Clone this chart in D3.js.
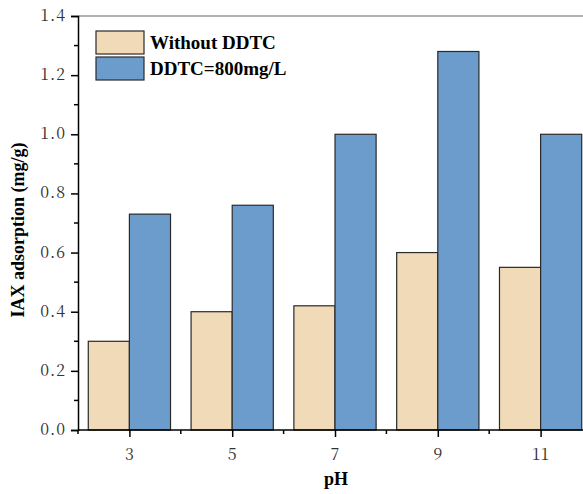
<!DOCTYPE html>
<html><head><meta charset="utf-8">
<script src="https://cdn.jsdelivr.net/npm/d3@7"></script>
<style>
body{margin:0;background:#fff}
#wrap{position:relative;width:583px;height:494px;overflow:hidden}
#wrap svg{position:absolute;left:0;top:0}
.lbl{position:absolute;white-space:pre;line-height:1;color:#333}
.tick-lbl{font-family:'Noto Serif CJK SC','Times New Roman',serif;font-size:16px}
.ttl{font-family:'Times New Roman','Liberation Serif',serif;font-weight:bold;color:#000}
</style>
</head><body>
<div id="wrap"><svg id="c" width="583" height="494"></svg></div>
<script>
const categories = [3, 5, 7, 9, 11];
const withoutDDTC = [0.30, 0.40, 0.42, 0.60, 0.55];
const withDDTC = [0.73, 0.76, 1.00, 1.28, 1.00];
const seriesNames = ["Without DDTC", "DDTC=800mg/L"];
const yTicks = [0, 0.2, 0.4, 0.6, 0.8, 1.0, 1.2, 1.4];
const colors = ["#F0DAB8", "#6C9CCC"];

const wrap = d3.select("#wrap");
const svg = d3.select("#c");
const L = 78, T = 16, B = 430;
const x = d3.scaleLinear().domain([2, 12]).range([L, L + 514]);
const y = d3.scaleLinear().domain([0, 1.4]).range([B, T]);
const bw = 0.8;

const data = [];
categories.forEach((c, i) => {
  data.push({x0: c - bw, x1: c, v: withoutDDTC[i], s: 0});
  data.push({x0: c, x1: c + bw, v: withDDTC[i], s: 1});
});
svg.append("g").selectAll("rect").data(data).enter().append("rect")
  .attr("x", d => x(d.x0)).attr("width", d => x(d.x1) - x(d.x0))
  .attr("y", d => y(d.v)).attr("height", d => y(0) - y(d.v))
  .attr("fill", d => colors[d.s]).attr("stroke", "#2a2a2a").attr("stroke-width", 1.2);

svg.append("line").attr("x1", L).attr("x2", 583).attr("y1", T).attr("y2", T)
  .attr("stroke", "#666").attr("stroke-width", 1.2);

// y axis (lines via d3 axis, labels as HTML text)
const ya = svg.append("g").attr("transform", `translate(${L},0)`)
  .call(d3.axisLeft(y).tickValues(yTicks).tickSize(7).tickFormat(""));
ya.select(".domain").attr("stroke", "#000").attr("stroke-width", 1.5);
ya.selectAll(".tick line").attr("stroke-width", 1.5);
ya.selectAll("text").remove();
svg.append("g").selectAll("line").data(d3.range(0.1, 1.4, 0.2)).enter().append("line")
  .attr("x1", L - 4).attr("x2", L).attr("y1", d => y(d)).attr("y2", d => y(d))
  .attr("stroke", "#000").attr("stroke-width", 1.5);
wrap.selectAll("div.ylab").data(yTicks).enter().append("div")
  .attr("class", "lbl tick-lbl ylab")
  .style("right", (583 - L + 12) + "px")
  .style("top", d => (y(d) - 9) + "px")
  .style("letter-spacing", "1px")
  .text(d => d3.format(".1f")(d));

// x axis
const xa = svg.append("g").attr("transform", `translate(0,${B})`)
  .call(d3.axisBottom(x).tickValues(categories).tickSize(7).tickFormat(""));
xa.select(".domain").remove();
xa.selectAll("text").remove();
xa.append("line").attr("x1", L).attr("x2", 583).attr("stroke", "#000").attr("stroke-width", 1.5);
xa.selectAll(".tick line").attr("stroke-width", 1.5);
svg.append("g").selectAll("line").data([2, 4, 6, 8, 10]).enter().append("line")
  .attr("x1", d => x(d)).attr("x2", d => x(d)).attr("y1", B).attr("y2", B + 4)
  .attr("stroke", "#000").attr("stroke-width", 1.5);
wrap.selectAll("div.xlab").data(categories).enter().append("div")
  .attr("class", "lbl tick-lbl xlab")
  .style("left", d => (x(d) - 30) + "px").style("width", "60px").style("text-align", "center")
  .style("top", (B + 16) + "px")
  .text(d => d);

// titles
wrap.append("div").attr("class", "lbl ttl")
  .style("left", "276px").style("width", "120px").style("text-align", "center")
  .style("top", "470px").style("font-size", "18px").text("pH");
wrap.append("div").attr("class", "lbl ttl")
  .style("left", (18 - 120) + "px").style("width", "240px").style("text-align", "center")
  .style("top", (230 - 9) + "px").style("font-size", "18px")
  .style("transform", "rotate(-90deg)").text("IAX adsorption (mg/g)");

// legend
seriesNames.forEach((n, i) => {
  svg.append("rect").attr("x", 96).attr("y", 31 + i * 26).attr("width", 48).attr("height", 23)
    .attr("fill", colors[i]).attr("stroke", "#2a2a2a").attr("stroke-width", 1.2);
  wrap.append("div").attr("class", "lbl ttl")
    .style("left", "150px").style("top", (33 + i * 26) + "px").style("font-size", "19px").text(n);
});
</script>
</body></html>
